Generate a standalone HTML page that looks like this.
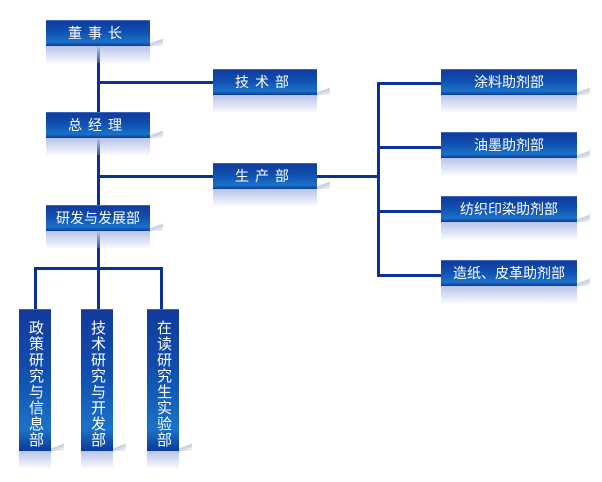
<!DOCTYPE html>
<html><head><meta charset="utf-8"><style>
body{margin:0;width:602px;height:482px;background:#fff;position:relative;overflow:hidden;font-family:"Liberation Sans","Noto Sans CJK SC",sans-serif}
.b{position:absolute;background:linear-gradient(#123a9a 0%,#0f4fb0 45%,#1a72c8 85%,#0c3a98 100%);color:#fff;font-size:14px;text-align:center;box-shadow:inset 0 1px 0 #3a66c0}
.b::after{content:"";position:absolute;left:0;right:0;top:100%;height:17px;background:linear-gradient(#b8c4e6,rgba(220,228,245,0.2))}
.b::before{content:"";position:absolute;right:-13px;bottom:0;width:13px;height:10px;background:linear-gradient(160deg,transparent 45%,#c5cde0 55%,rgba(230,235,245,0.3))}
.h{height:26px;line-height:26px}
.l{position:absolute;background:#0a3296}
.v{writing-mode:vertical-rl;text-orientation:upright;line-height:32px;padding-top:8px;box-sizing:border-box;font-size:15px;letter-spacing:1px}
</style></head><body>
<div class="l" style="left:97px;top:45px;width:3px;height:160px"></div>
<div class="l" style="left:97px;top:81px;width:116px;height:3px"></div>
<div class="l" style="left:97px;top:175px;width:116px;height:3px"></div>
<div class="l" style="left:97px;top:230px;width:3px;height:80px"></div>
<div class="l" style="left:34px;top:267px;width:129px;height:3px"></div>
<div class="l" style="left:34px;top:267px;width:3px;height:43px"></div>
<div class="l" style="left:160px;top:267px;width:3px;height:43px"></div>
<div class="l" style="left:317px;top:175px;width:62px;height:3px"></div>
<div class="l" style="left:377px;top:82px;width:3px;height:194px"></div>
<div class="l" style="left:377px;top:82px;width:64px;height:3px"></div>
<div class="l" style="left:377px;top:146px;width:64px;height:3px"></div>
<div class="l" style="left:377px;top:210px;width:64px;height:3px"></div>
<div class="l" style="left:377px;top:274px;width:64px;height:3px"></div>

<div class="b h" style="left:46px;top:20px;width:104px;letter-spacing:6px">董事长</div>
<div class="b h" style="left:46px;top:112px;width:104px;letter-spacing:6px">总经理</div>
<div class="b h" style="left:46px;top:205px;width:104px">研发与发展部</div>
<div class="b h" style="left:213px;top:69px;width:104px;letter-spacing:6px">技术部</div>
<div class="b h" style="left:213px;top:163px;width:104px;letter-spacing:6px">生产部</div>
<div class="b h" style="left:441px;top:69px;width:136px">涂料助剂部</div>
<div class="b h" style="left:441px;top:132px;width:136px">油墨助剂部</div>
<div class="b h" style="left:441px;top:196px;width:136px">纺织印染助剂部</div>
<div class="b h" style="left:441px;top:260px;width:136px">造纸、皮革助剂部</div>

<div class="b v" style="left:19px;top:309px;width:32px;height:142px">政策研究与信息部</div>
<div class="b v" style="left:81px;top:309px;width:32px;height:142px">技术研究与开发部</div>
<div class="b v" style="left:147px;top:309px;width:32px;height:142px">在读研究生实验部</div>
</body></html>
